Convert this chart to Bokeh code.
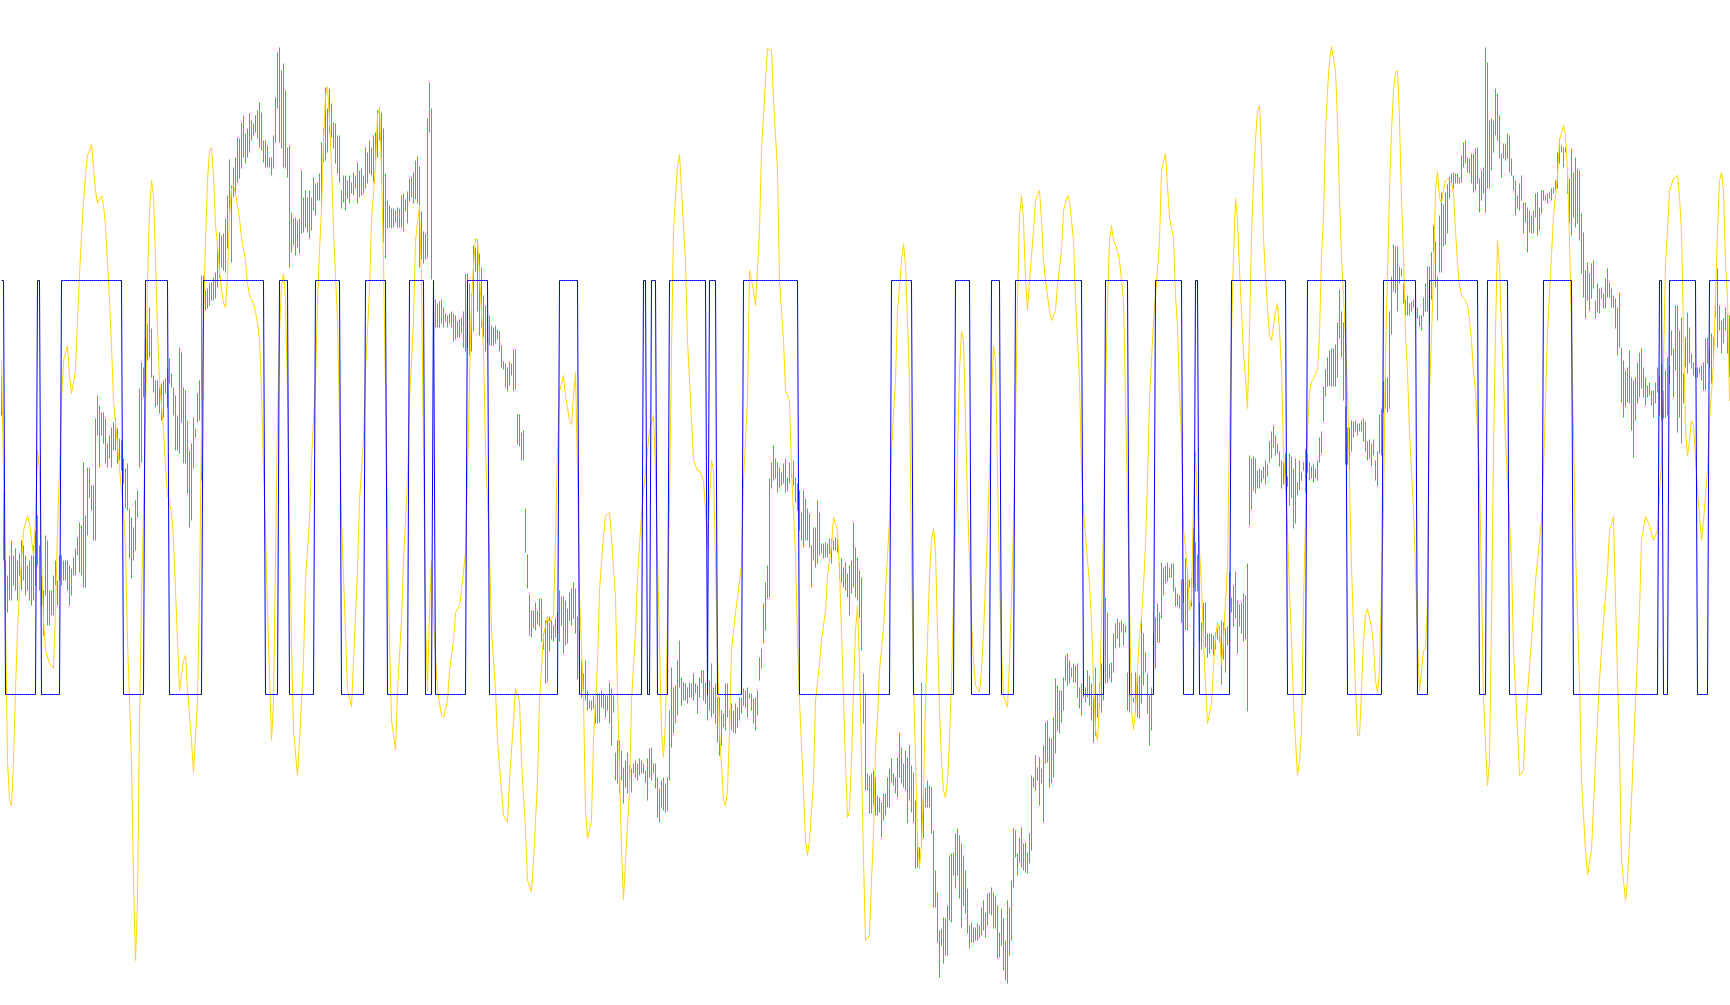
import numpy as np
from bokeh.plotting import figure
from bokeh.models import Range1d, ColumnDataSource
from bokeh.embed import file_html
from bokeh.resources import INLINE

# ---- price bars (points), one entry per bar ----
bar_high = [
625,510,440,425,445,460,445,452,440,447, 460,455,445,435,440,445,455,470,485,455,
425,410,465,460,410,410,425,440,420,445, 445,440,440,440,435,432,443,452,463,478,
475,538,485,533,533,515,515,582,605,595, 588,588,582,557,565,573,578,583,572,562,
560,542,532,537,492,483,473,500,510,612, 638,633,662,677,693,672,625,620,620,613,
617,620,622,633,642,627,613,605,585,653, 648,613,610,580,550,557,583,572,607,620,
725,725,710,712,717,718,723,728,758,768, 765,767,782,805,841,815,833,843,863,862,
878,885,867,872,887,880,877,885,890,898, 888,860,860,855,843,843,865,903,948,953,
930,937,910,853,855,788,782,783,780,782, 830,803,810,803,810,803,823,817,818,827,
858,872,913,892,912,897,878,877,865,865, 810,825,825,820,825,818,828,825,838,830,
832,825,853,848,860,853,865,868,890,893, 888,872,827,800,795,792,792,790,793,792,
805,807,801,809,822,824,828,840,844,834, 789,769,767,882,918,892,719,701,697,699,
701,693,687,685,687,689,687,685,679,681, 683,689,727,727,717,707,755,753,761,747,
733,705,695,685,685,675,673,675,671,669, 655,639,637,633,639,637,651,651,586,586,
568,570,492,446,406,390,390,398,390,402, 402,367,380,380,384,380,375,382,388,410,
404,404,400,392,408,412,418,412,384,370, 340,327,340,310,300,300,305,298,307,307,
310,307,305,305,318,312,305,248,260,260, 250,233,240,248,235,232,237,240,237,242,
240,237,230,242,252,253,237,237,223,212, 220,223,217,223,290,333,313,315,340,360,
323,318,317,313,318,317,327,317,315,323, 330,330,318,327,320,337,313,317,303,303,
290,287,317,317,290,297,290,297,293,303, 303,312,310,313,307,307,302,303,310,343,
352,397,418,435,522,538,555,542,538,533, 528,537,542,523,538,533,540,523,517,510,
488,510,502,492,487,455,473,473,500,488, 457,457,458,457,462,462,460,463,462,437,
442,433,438,427,435,440,478,453,443,430, 423,327,307,227,225,227,230,223,205,203,
198,207,207,223,232,242,227,223,243,268, 253,237,250,243,255,235,228,200,168,153,
318,215,213,220,215,213,170,130,108,70, 72,83,82,95,145,147,148,167,172,165,
157,145,130,112,75,78,73,73,77,75, 93,100,88,107,108,113,108,105,95,68,
92,82,60,100,93,120,172,170,147,163, 173,157,158,148,167,225,223,245,233,243,
232,255,278,280,263,262,283,322,315,310, 310,323,345,347,340,333,337,335,337,313,
317,308,313,330,325,317,303,333,307,318, 337,333,403,388,337,338,367,377,382,378,
380,377,375,328,317,328,303,328,327,325, 382,367,348,327,305,313,367,383,397,388,
438,433,435,438,433,437,437,413,407,405, 421,421,442,431,421,423,472,458,446,398,
378,398,398,367,367,367,365,368,372,374, 380,378,372,374,429,403,415,429,400,396,
398,407,405,437,545,542,544,542,530,532, 530,534,540,536,559,569,575,565,557,549,
540,538,547,524,547,544,532,542,518,540, 528,538,551,547,538,534,536,532,540,563,
569,614,631,643,650,652,652,656,678,711, 689,678,594,573,573,580,579,580,577,577,
580,582,579,559,561,557,561,540,549,586, 592,619,623,623,689,724,756,754,754,734,
732,717,701,705,697,699,701,693,693,685, 685,703,717,734,734,748,775,759,724,785,
808,796,808,816,824,827,828,827,827,823, 845,858,860,843,842,847,847,852,853,822,
830,833,953,938,880,882,880,912,907,885, 847,857,857,867,865,842,825,820,805,817,
825,798,798,793,790,785,790,807,808,793, 810,810,805,807,808,812,813,820,848,862,
855,853,853,827,822,852,828,843,832,830, 787,768,730,738,727,737,740,700,717,712,
713,707,722,732,718,712,705,702,693,708, 653,640,630,633,650,623,620,623,638,648,
652,633,623,615,618,610,610,618,633,625, 637,610,630,643,635,670,652,695,695,670,
683,627,663,688,673,647,638,633,633,633, 635,638,662,663,652,667,663,707,732,695,
680,682,693,687,685,
]

bar_low = [
585,440,390,388,400,400,415,410,400,425, 410,420,405,410,400,395,400,415,435,410,
395,365,405,375,375,385,385,415,395,420, 415,420,420,410,395,405,425,425,445,428,
425,413,413,465,503,490,460,460,565,533, 565,557,537,533,542,533,550,550,537,540,
530,517,492,490,442,422,440,450,483,533, 538,603,605,640,643,623,608,593,595,587,
580,583,607,593,617,613,585,550,550,547, 578,537,537,507,473,480,532,563,578,580,
520,695,690,692,695,700,700,702,713,722, 733,730,728,752,787,738,803,805,818,822,
832,843,837,843,848,860,865,868,862,853, 850,838,833,833,833,825,832,858,892,858,
852,833,832,823,733,748,755,745,753,747, 767,768,773,768,762,770,790,785,800,800,
792,838,840,848,867,863,852,837,827,818, 792,798,790,802,797,807,805,812,797,803,
805,807,812,817,827,825,818,840,843,860, 818,758,742,772,773,772,773,778,773,773,
773,769,789,777,799,803,797,801,797,733, 741,737,741,743,868,721,661,673,673,673,
677,673,679,673,677,673,659,661,663,663, 667,653,649,653,645,649,669,729,689,665,
673,663,649,657,655,655,655,657,661,649, 633,631,613,609,615,625,609,611,556,554,
540,540,448,412,365,363,372,370,376,374, 359,351,317,319,349,361,359,363,367,359,
375,347,355,357,380,375,382,367,321,310, 303,310,300,290,292,290,292,277,277,278,
293,292,283,290,277,255,288,220,217,207, 220,197,213,207,220,208,227,223,220,225,
227,227,218,200,223,220,227,212,183,178, 193,190,188,190,220,253,267,277,285,313,
295,300,300,297,303,303,300,307,287,303, 317,300,297,280,290,283,287,277,258,245,
255,273,270,283,270,270,268,267,273,280, 287,295,293,283,302,290,277,270,285,320,
332,357,370,402,403,512,520,522,508,513, 515,517,508,510,517,523,515,498,490,470,
460,453,460,460,453,413,440,433,437,445, 447,442,443,443,447,437,450,450,448,422,
418,413,410,403,385,407,413,403,400,383, 350,277,210,210,187,187,195,185,185,188,
163,180,185,193,193,218,215,207,203,223, 217,213,210,177,200,188,178,132,133,132,
153,162,193,193,193,167,93,93,58,23, 55,37,45,45,80,78,125,112,125,102,
73,95,87,67,52,58,58,60,60,63, 65,70,63,75,87,85,72,72,42,43,
55,30,20,17,45,60,113,143,125,138, 133,130,128,127,137,150,213,210,220,195,
217,178,237,238,213,217,223,247,270,267, 278,290,320,315,317,323,318,318,303,292,
285,303,298,303,295,280,258,265,283,292, 288,300,317,318,322,318,328,352,362,353,
368,355,368,290,288,300,298,288,283,282, 297,315,328,287,255,270,330,332,358,358,
382,405,417,419,423,423,409,394,394,392, 378,398,370,370,413,394,413,409,409,359,
351,357,353,343,347,351,345,351,361,359, 316,341,328,355,359,388,374,382,347,374,
367,359,361,289,475,491,510,507,512,512, 518,522,516,524,538,542,553,545,547,534,
512,516,510,514,495,503,472,477,505,510, 520,530,507,528,520,522,518,522,520,538,
547,579,604,614,615,614,614,614,623,662, 643,600,536,536,530,549,563,569,565,569,
569,559,549,540,542,534,545,520,514,547, 545,588,592,588,592,666,709,707,689,717,
724,697,685,685,685,689,693,685,682,674, 670,684,689,689,678,701,748,713,680,728,
728,754,756,767,802,818,812,817,817,817, 818,833,837,828,827,817,808,810,817,788,
800,807,788,812,812,830,848,865,860,842, 823,842,840,842,828,825,810,785,792,790,
800,767,778,748,768,767,767,783,765,770, 787,800,800,797,802,800,807,810,812,837,
848,833,848,807,777,765,783,773,777,760, 727,703,682,700,690,702,712,682,688,687,
702,692,692,703,703,693,693,672,645,653, 598,583,593,598,597,570,543,580,597,603,
612,603,595,603,605,595,583,597,608,585, 580,582,583,585,617,645,603,630,568,583,
557,597,633,627,637,632,625,623,623,627, 620,610,610,637,633,617,640,683,653,670,
647,657,670,647,623,
]

# ---- oscillator readings: (bar, value) ----
oscillator = [
(0,640),(1,530),(2,380),(3,240),(4,200),(5,195),(6,240),(7,310),(8,370),(9,410),(10,440),(11,470),(13,485),(14,477),
(16,445),(17,480),(18,550),(19,530),(20,440),(21,380),(22,350),(24,337),(26,332),(27,390),(28,470),(29,530),(30,600),
(31,640),(33,655),(34,625),(35,607),(37,630),(38,680),(39,725),(40,765),(41,800),(42,825),(43,845),(45,856),(46,832),
(47,810),(48,797),(49,802),(50,804),(51,795),(52,775),(53,738),(54,700),(55,655),(56,600),(58,555),(59,532),(60,510),
(61,490),(62,455),(63,360),(65,240),(66,120),(67,40),(68,100),(69,280),(70,400),(72,580),(73,720),(74,790),(75,820),
(76,805),(77,740),(78,670),(79,620),(81,570),(82,535),(83,505),(85,489),(86,460),(87,410),(88,360),(89,310),(91,340),
(92,345),(93,310),(95,260),(96,228),(98,300),(99,410),(100,570),(101,680),(102,760),(103,820),(104,850),(105,853),
(106,825),(107,775),(108,755),(109,730),(110,710),(111,698),(112,693),(113,725),(114,785),(115,812),(116,815),
(117,807),(118,795),(119,782),(120,763),(122,740),(123,717),(124,705),(126,697),(127,688),(128,678),(129,660),
(130,610),(131,530),(132,470),(133,390),(135,260),(136,300),(137,440),(138,580),(139,670),(140,715),(141,727),
(142,700),(143,610),(144,484),(145,360),(146,270),(148,225),(149,260),(151,340),(152,420),(154,480),(155,540),
(157,620),(158,700),(159,750),(160,790),(161,860),(162,905),(163,914),(164,880),(165,835),(166,770),(168,680),
(169,584),(170,480),(172,368),(173,310),(175,294),(176,340),(178,430),(179,500),(181,560),(182,630),(184,710),
(185,780),(187,835),(188,885),(189,893),(190,830),(191,740),(192,610),(193,480),(194,360),(195,280),(197,250),
(198,310),(200,380),(201,440),(203,520),(204,600),(206,680),(207,760),(209,795),(210,720),(211,550),(212,380),
(213,310),(214,390),(215,440),(216,380),(218,310),(220,285),(221,283),(223,300),(224,330),(226,360),(227,388),
(229,395),(230,410),(232,448),(233,530),(234,620),(235,700),(236,735),(237,762),(238,760),(239,725),(241,650),
(242,550),(244,450),(245,370),(247,310),(248,260),(250,210),(251,185),(253,178),(254,220),(256,280),(257,312),
(259,300),(260,240),(262,170),(263,120),(265,109),(266,140),(268,220),(269,300),(271,365),(273,384),(274,378),
(276,385),(277,460),(278,550),(279,609),(281,625),(282,605),(284,580),(285,576),(286,605),(287,628),(288,530),
(289,405),(291,300),(292,190),(293,162),(295,180),(296,260),(298,337),(299,410),(301,465),(302,485),(304,488),
(305,463),(307,403),(308,310),(309,230),(310,150),(311,101),(312,140),(314,210),(315,300),(317,370),(318,423),
(320,487),(322,530),(324,570),(326,585),(327,530),(329,360),(330,270),(331,243),(332,280),(333,380),(334,500),
(335,650),(336,770),(338,835),(339,846),(340,810),(342,740),(343,660),(345,580),(346,540),(348,530),(349,530),
(351,520),(352,490),(353,455),(354,500),(355,540),(356,530),(357,440),(358,350),(359,270),(361,200),(362,195),
(363,210),(364,270),(365,350),(367,388),(368,403),(370,435),(371,520),(373,600),(374,730),(376,710),(377,695),
(379,770),(380,850),(382,920),(383,952),(385,950),(386,900),(388,830),(389,720),(391,660),(392,610),(394,600),
(395,530),(397,447),(398,360),(399,300),(401,210),(402,160),(403,145),(404,160),(406,220),(407,300),(409,337),
(410,360),(412,390),(413,425),(415,455),(416,483),(418,470),(419,430),(420,370),(421,303),(422,237),(423,183),
(424,190),(425,240),(426,310),(427,370),(428,395),(429,340),(430,240),(431,140),(432,60),(434,65),(435,120),
(436,167),(437,250),(438,283),(439,330),(441,373),(442,410),(444,480),(445,550),(447,620),(448,690),(450,740),
(451,757),(452,735),(454,620),(455,440),(456,320),(457,240),(458,160),(459,133),(460,155),(461,210),(462,300),
(463,360),(464,425),(465,460),(466,472),(467,450),(468,370),(469,290),(470,240),(471,210),(472,203),(473,220),
(474,260),(475,320),(476,400),(477,470),(478,550),(479,630),(480,669),(481,660),(482,580),(483,500),(484,440),
(485,380),(486,340),(487,315),(489,308),(490,330),(491,367),(492,417),(493,470),(494,530),(495,600),(496,655),
(497,640),(498,530),(499,420),(500,350),(501,305),(503,293),(504,340),(505,400),(506,480),(507,580),(508,700),
(509,785),(510,805),(511,780),(512,720),(513,690),(514,720),(516,770),(517,800),(519,810),(520,780),(521,740),
(522,720),(524,690),(525,680),(527,690),(528,715),(530,750),(531,790),(533,805),(534,800),(536,760),(537,700),
(539,620),(540,530),(541,490),(543,440),(544,417),(545,380),(546,320),(547,270),(548,260),(549,300),(550,380),
(551,480),(552,600),(553,700),(554,760),(555,775),(556,760),(558,750),(559,740),(561,700),(562,600),(563,500),
(564,400),(565,290),(566,271),(567,290),(568,330),(569,365),(570,383),(571,415),(572,455),(573,520),(574,600),
(576,680),(578,730),(579,760),(580,829),(582,847),(583,814),(584,783),(586,763),(587,705),(588,674),(589,608),
(590,561),(591,472),(592,452),(593,429),(594,390),(595,402),(596,500),(597,549),(598,491),(599,452),(600,413),
(601,360),(602,316),(603,277),(605,297),(606,335),(607,363),(608,378),(609,370),(610,335),(611,360),(612,400),
(613,433),(614,570),(615,666),(616,744),(617,802),(618,780),(619,730),(620,690),(621,647),(622,623),(623,592),
(624,670),(625,763),(626,822),(627,861),(628,890),(629,895),(630,850),(631,763),(632,724),(633,693),(634,665),
(635,660),(636,674),(637,689),(638,697),(639,670),(640,630),(641,549),(642,510),(643,472),(644,410),(645,360),
(646,297),(647,260),(648,225),(649,240),(650,270),(651,400),(652,480),(653,569),(654,608),(655,619),(656,622),
(658,631),(659,666),(660,744),(661,783),(662,870),(663,910),(664,940),(665,954),(667,930),(668,880),(669,802),
(670,744),(671,705),(672,660),(673,608),(674,520),(675,433),(676,374),(677,310),(678,265),(679,265),(680,310),
(681,360),(682,386),(683,392),(684,382),(685,374),(686,355),(687,320),(688,308),(689,330),(690,413),(691,491),
(692,647),(693,724),(694,810),(695,870),(696,910),(697,928),(698,930),(699,880),(700,802),(701,744),(702,666),
(703,628),(704,569),(705,530),(706,491),(707,430),(708,360),(709,310),(710,330),(711,350),(712,351),(713,400),
(714,608),(715,666),(716,724),(717,810),(718,829),(719,802),(720,798),(721,810),(722,820),(723,822),(725,818),
(726,807),(727,770),(728,737),(729,715),(730,705),(732,700),(733,695),(734,680),(735,660),(736,627),(737,610),
(738,570),(739,520),(740,420),(741,300),(743,215),(744,240),(745,380),(746,550),(747,670),(748,760),(749,735),
(750,670),(751,620),(752,560),(753,520),(755,440),(756,350),(758,270),(759,225),(761,230),(762,280),(765,360),
(767,420),(770,480),(771,530),(773,670),(775,745),(776,785),(778,825),(779,860),(781,875),(782,865),(783,830),
(784,760),(785,670),(786,570),(787,450),(789,320),(790,220),(792,150),(793,126),(795,150),(797,240),(799,320),
(801,380),(803,430),(804,470),(806,484),(807,400),(809,250),(810,140),(812,100),(813,120),(815,200),(817,300),
(819,390),(820,460),(822,484),(824,475),(826,460),(828,470),(829,510),(830,537),(831,637),(832,737),(833,770),
(834,810),(836,822),(838,825),(839,803),(840,770),(841,670),(842,570),(843,545),(844,560),(845,580),(846,575),
(847,543),(848,510),(850,460),(851,480),(853,530),(854,580),(856,637),(857,703),(858,770),(859,820),(860,828),
(861,810),(862,737),(863,703),(864,600),
]

# ---- signal state: runs of bars where the signal is "up" (inclusive) ----
signal_up_runs = [
(0,1),(18,19),(30,60),(72,83),(101,131),(139,143),(157,169),(182,192),(204,211),(216,216),
(233,243),(279,288),(321,322),(325,327),(334,352),(354,357),(371,398),(445,455),(477,484),
(495,499),(507,540),(552,563),(577,590),(597,598),(615,642),(653,672),(691,707),(714,738),
(743,753),(771,785),(829,830),(834,847),(854,864),
]
SIGNAL_LEVELS = (306, 720)   # low / high level of the signal line

# ---- derived columns ----
n = min(len(bar_high), len(bar_low))
idx = np.arange(n)
bars = ColumnDataSource(dict(x=idx, hi=np.array(bar_high[:n]), lo=np.array(bar_low[:n])))

osc_x = [b for b, v in oscillator]
osc_y = [v for b, v in oscillator]

sig = np.zeros(n, dtype=int)
for a, b in signal_up_runs:
    sig[a:b + 1] = 1
sig_y = np.where(sig == 1, SIGNAL_LEVELS[1], SIGNAL_LEVELS[0])

p = figure(width=1730, height=1005,
           x_range=Range1d(-0.5, 864.5), y_range=Range1d(-5, 1000),
           x_axis_type=None, y_axis_type=None,
           output_backend="svg", toolbar_location=None, min_border=0,
           background_fill_color="white", border_fill_color="white")
p.outline_line_color = None
p.grid.visible = False

p.segment(x0="x", y0="lo", x1="x", y1="hi", source=bars, line_color="#00e600", line_width=1)
p.line(osc_x, osc_y, line_color="#ffd700", line_width=1)
p.line(idx, sig_y, line_color="#0000ff", line_width=1)

open("out.html", "w").write(file_html(p, INLINE))
